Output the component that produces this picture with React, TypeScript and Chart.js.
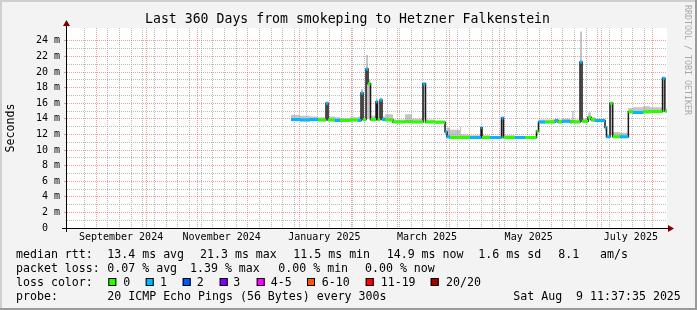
import React, { useEffect, useRef } from 'react';
import { Chart, registerables } from 'chart.js';
Chart.register(...registerables);

const W = 697;
const H = 310;
const MONO = '"DejaVu Sans Mono", monospace';

const titleText = 'Last 360 Days from smokeping to Hetzner Falkenstein';
const yAxisTitle = 'Seconds';
const watermark = 'RRDTOOL / TOBI OETIKER';

// x values are days since Sun 2024-08-11 00:00
const rangeStartDay = 3.484; // Wed Aug 14 2024 11:37:35
const rangeEndDay = 363.484; // Sat Aug 9 2025 11:37:35
const monthStartDays = [21, 51, 82, 112, 143, 174, 202, 233, 263, 294, 324, 355];
const xLabelDays = [35.9, 96.3, 157.9, 219.5, 280.5, 341.8];
const xLabels = ['September 2024', 'November 2024', 'January 2025', 'March 2025', 'May 2025', 'July 2025'];

const yMax = 25.65; // ms
const yTickValues = [0, 2, 4, 6, 8, 10, 12, 14, 16, 18, 20, 22, 24];
const yTickLabels = ['0  ', '2 m', '4 m', '6 m', '8 m', '10 m', '12 m', '14 m', '16 m', '18 m', '20 m', '22 m', '24 m'];

// median rtt steps (each value holds from its day until the next day)
const stepDays = [
  137.9, 143.3, 149.3, 154.1, 158.9, 160.1, 164.3, 167.3, 173.3, 178.1,
  179.9, 181.1, 182.9, 184.1, 185.6, 188.9, 189.8, 191.3, 192.5, 194.3,
  199.1, 206.3, 210.5, 217.1, 218.6, 224.3, 230.3, 231.5, 233.3, 239.3,
  239.9, 245.3, 251.9, 252.5, 257.3, 264.2, 265.4, 272.3, 278.3, 285.2,
  286.4, 290.3, 296.3, 298.1, 300.5, 305.3, 306.5, 307.4, 311.3, 312.5,
  316.1, 317.9, 320.3, 326.3, 327.2, 329.3, 330.9, 335.3, 340.3, 343.1,
  349.1, 353.3, 360.8, 362.2,
];
const medianMs = [
  13.9, 13.85, 13.9, 13.85, 16.0, 13.85, 13.8, 13.8, 13.85, 13.8,
  17.3, 13.9, 20.4, 18.5, 13.9, 16.2, 13.9, 16.4, 13.9, 13.85,
  13.6, 13.65, 13.6, 18.5, 13.6, 13.55, 12.3, 11.7, 11.6, 11.65,
  11.6, 11.6, 12.9, 11.6, 11.6, 14.1, 11.6, 11.6, 11.6, 12.4,
  13.6, 13.6, 13.8, 13.6, 13.7, 13.6, 13.7, 13.6, 21.3, 13.7,
  14.2, 13.9, 13.8, 12.9, 11.7, 16.0, 11.7, 11.7, 14.9, 14.8,
  14.9, 14.95, 19.2, 15.0,
];
const lossCount = [
  1, 1, 1, 0, 1, 0, 1, 0, 0, 1,
  1, 0, 1, 0, 0, 1, 0, 1, 1, 0,
  0, 0, 0, 1, 0, 0, 1, 1, 0, 0,
  0, 1, 1, 0, 1, 1, 0, 1, 0, 0,
  1, 0, 1, 0, 1, 0, 0, 0, 1, 0,
  0, 0, 1, 1, 1, 0, 0, 1, 0, 1,
  0, 0, 1, 0,
];
const smokeLoMs = [
  13.7, 13.7, 13.7, 13.7, 13.9, 13.7, 13.7, 13.7, 13.7, 13.7,
  14.0, 13.7, 14.0, 14.0, 13.7, 14.0, 13.7, 14.0, 13.7, 13.7,
  13.5, 13.5, 13.5, 14.0, 13.45, 13.4, 12.0, 11.5, 11.5, 11.5,
  11.5, 11.5, 11.7, 11.5, 11.5, 11.7, 11.5, 11.5, 11.5, 12.0,
  13.4, 13.45, 13.5, 13.45, 13.5, 13.45, 13.5, 13.45, 14.0, 13.5,
  13.8, 13.6, 13.6, 12.5, 11.5, 12.0, 11.5, 11.5, 14.7, 14.7,
  14.7, 14.8, 15.0, 14.8,
];
const smokeHiMs = [
  14.5, 14.4, 14.3, 14.2, 16.1, 14.3, 14.2, 14.1, 14.2, 14.3,
  17.8, 14.3, 22.2, 19.0, 14.4, 16.6, 14.2, 16.7, 14.3, 14.6,
  13.9, 14.6, 14.0, 18.6, 13.9, 13.8, 12.6, 12.9, 12.6, 13.0,
  12.0, 11.9, 13.0, 11.9, 11.8, 14.2, 11.9, 11.8, 11.8, 12.6,
  13.9, 13.9, 14.0, 13.9, 14.0, 13.9, 15.0, 13.9, 25.2, 14.0,
  14.8, 14.2, 14.0, 13.1, 11.9, 16.1, 12.3, 12.2, 15.4, 15.5,
  15.6, 15.5, 19.3, 15.3,
];

const lossColorLabels = ['0', '1', '2', '3', '4-5', '6-10', '11-19', '20/20'];
const lossColors = ['#26ff00', '#00b8ff', '#0059ff', '#7e00ff', '#ff00ff', '#ff5500', '#ff0000', '#a10000'];

const medianStats = ['13.4 ms avg', '21.3 ms max', '11.5 ms min', '14.9 ms now', '1.6 ms sd', '8.1', 'am/s'];
const lossStats = ['0.07 % avg', '1.39 % max', '0.00 % min', '0.00 % now'];
const rowHeads = ['median rtt:', 'packet loss:', 'loss color:', 'probe:'];
const probeText = '20 ICMP Echo Pings (56 Bytes) every 300s';
const dateText = 'Sat Aug  9 11:37:35 2025';

// layout (pixels)
const L = {
  rowY: [254.5, 268.5, 282.5, 296.5],
  headX: 16,
  medianX: [107.3, 200, 293.3, 386.7, 478.3, 558.3, 600],
  lossX: [107.3, 190, 278.3, 365],
  boxX: [108.3, 145.7, 182.7, 219.7, 256.7, 307, 365.7, 430.7],
  boxLabelX: [123.3, 160, 196.7, 233.3, 270.7, 321.7, 380.7, 446],
  probeX: 107.3,
  dateX: 513.3,
};

const RED = 'rgba(235, 60, 60, 0.5)';
const GRAY = 'rgba(175, 175, 175, 0.85)';

function stepPoints(values: number[]) {
  const pts = stepDays.map((d, i) => ({ x: d, y: values[i] }));
  pts.push({ x: rangeEndDay, y: values[values.length - 1] });
  return pts;
}

function lossSegments(k: number) {
  const pts: { x: number; y: number | null }[] = [];
  stepDays.forEach((d, i) => {
    if (lossCount[i] !== k) return;
    const next = i + 1 < stepDays.length ? stepDays[i + 1] : rangeEndDay;
    pts.push({ x: d, y: medianMs[i] }, { x: next, y: medianMs[i] }, { x: next, y: null });
  });
  return pts;
}

const decor = {
  id: 'rrdDecor',
  beforeDraw(chart: any) {
    const { ctx, chartArea: a } = chart;
    ctx.save();
    ctx.fillStyle = '#f3f3f3';
    ctx.fillRect(0, 0, W, H);
    ctx.fillStyle = '#ffffff';
    ctx.fillRect(a.left, a.top, a.right - a.left, a.bottom - a.top);
    ctx.restore();
  },
  afterDraw(chart: any) {
    const { ctx, chartArea: a } = chart;
    ctx.save();
    // axes
    ctx.strokeStyle = '#000';
    ctx.lineWidth = 1;
    ctx.beginPath();
    ctx.moveTo(a.left - 5, a.bottom + 0.5);
    ctx.lineTo(a.right + 3, a.bottom + 0.5);
    ctx.moveTo(a.left - 0.5, a.bottom + 4);
    ctx.lineTo(a.left - 0.5, a.top - 3);
    ctx.stroke();
    ctx.fillStyle = '#7f0000';
    ctx.beginPath();
    ctx.moveTo(a.right + 1, a.bottom + 0.5 - 3.5);
    ctx.lineTo(a.right + 7, a.bottom + 0.5);
    ctx.lineTo(a.right + 1, a.bottom + 0.5 + 3.5);
    ctx.closePath();
    ctx.fill();
    ctx.beginPath();
    ctx.moveTo(a.left - 0.5 - 3.5, a.top - 2);
    ctx.lineTo(a.left - 0.5, a.top - 8);
    ctx.lineTo(a.left - 0.5 + 3.5, a.top - 2);
    ctx.closePath();
    ctx.fill();

    // title
    ctx.fillStyle = '#000';
    ctx.textBaseline = 'middle';
    ctx.textAlign = 'center';
    ctx.font = `13.2px ${MONO}`;
    ctx.fillText(titleText, 347.5, 19.5);

    // watermark
    ctx.save();
    ctx.translate(687, 5);
    ctx.rotate(Math.PI / 2);
    ctx.textAlign = 'left';
    ctx.fillStyle = '#a8a8a8';
    ctx.font = `8.3px ${MONO}`;
    ctx.fillText(watermark, 0, 0);
    ctx.restore();

    // legend
    ctx.textAlign = 'left';
    ctx.fillStyle = '#000';
    ctx.font = `11.6px ${MONO}`;
    rowHeads.forEach((t, r) => ctx.fillText(t, L.headX, L.rowY[r]));
    medianStats.forEach((t, i) => ctx.fillText(t, L.medianX[i], L.rowY[0]));
    lossStats.forEach((t, i) => ctx.fillText(t, L.lossX[i], L.rowY[1]));
    lossColorLabels.forEach((t, i) => {
      ctx.fillStyle = lossColors[i];
      ctx.fillRect(L.boxX[i], L.rowY[2] - 4.5, 8, 8);
      ctx.strokeStyle = '#000';
      ctx.strokeRect(L.boxX[i] + 0.5, L.rowY[2] - 4, 7, 7);
      ctx.fillStyle = '#000';
      ctx.fillText(t, L.boxLabelX[i], L.rowY[2]);
    });
    ctx.fillText(probeText, L.probeX, L.rowY[3]);
    ctx.fillText(dateText, L.dateX, L.rowY[3]);

    // frame
    ctx.fillStyle = '#cfcfcf';
    ctx.fillRect(0, 0, W, 2);
    ctx.fillRect(0, 0, 2, H);
    ctx.fillStyle = '#9a9a9a';
    ctx.fillRect(0, H - 2, W, 2);
    ctx.fillRect(W - 2, 0, 2, H);
    ctx.restore();
  },
};

export default function App() {
  const ref = useRef<HTMLCanvasElement | null>(null);
  useEffect(() => {
    document.body.style.margin = '0';
    const canvas = ref.current;
    if (!canvas) return;
    Chart.defaults.font.family = MONO;
    const chart = new Chart(canvas, {
      type: 'line',
      data: {
        datasets: [
          {
            label: 'loss 0',
            data: lossSegments(0),
            borderColor: lossColors[0],
            borderWidth: 3,
            borderCapStyle: 'butt',
            pointRadius: 0,
            spanGaps: false,
            order: 0,
          },
          {
            label: 'loss 1',
            data: lossSegments(1),
            borderColor: lossColors[1],
            borderWidth: 3,
            borderCapStyle: 'butt',
            pointRadius: 0,
            spanGaps: false,
            order: 0,
          },
          {
            label: 'median',
            data: stepPoints(medianMs),
            borderColor: '#1a1a1a',
            borderWidth: 1.5,
            stepped: true,
            pointRadius: 0,
            order: 1,
          },
          {
            label: 'smoke lo',
            data: stepPoints(smokeLoMs),
            borderWidth: 0,
            borderColor: 'transparent',
            stepped: true,
            pointRadius: 0,
            fill: false,
            order: 3,
          },
          {
            label: 'smoke hi',
            data: stepPoints(smokeHiMs),
            borderWidth: 0,
            borderColor: 'transparent',
            backgroundColor: 'rgba(150,150,150,0.55)',
            stepped: true,
            pointRadius: 0,
            fill: '-1',
            order: 2,
          },
        ],
      } as any,
      options: {
        responsive: false,
        animation: false,
        devicePixelRatio: 1,
        layout: { padding: { left: 0, right: 30, top: 28, bottom: 0 } },
        plugins: {
          legend: { display: false },
          tooltip: { enabled: false },
          title: { display: false },
        },
        scales: {
          x: {
            type: 'linear',
            position: 'bottom',
            min: rangeStartDay,
            max: rangeEndDay,
            afterBuildTicks: (s: any) => {
              s.ticks = xLabelDays.map((v) => ({ value: v }));
            },
            afterFit: (s: any) => {
              s.height = 82;
            },
            grid: { display: false, drawTicks: false },
            border: { display: false },
            ticks: {
              autoSkip: false,
              maxRotation: 0,
              minRotation: 0,
              padding: 3,
              color: '#000',
              font: { family: MONO, size: 10 },
              callback: (_v: any, i: number) => xLabels[i],
            },
          },
          xMonth: {
            type: 'linear',
            position: 'bottom',
            min: rangeStartDay,
            max: rangeEndDay,
            afterBuildTicks: (s: any) => {
              s.ticks = monthStartDays.map((v) => ({ value: v }));
            },
            afterFit: (s: any) => {
              s.height = 0;
            },
            grid: { color: RED, drawTicks: false, lineWidth: 1 },
            border: { display: false, dash: [1, 1] },
            ticks: { display: false },
          },
          xWeek: {
            type: 'linear',
            position: 'bottom',
            min: rangeStartDay,
            max: rangeEndDay,
            ticks: { display: false, stepSize: 7 },
            afterBuildTicks: (s: any) => {
              s.ticks = s.ticks.filter(
                (t: any) => Math.abs(t.value % 7) < 1e-6 && !monthStartDays.includes(Math.round(t.value))
              );
            },
            afterFit: (s: any) => {
              s.height = 0;
            },
            grid: { color: GRAY, drawTicks: false, lineWidth: 1 },
            border: { display: false, dash: [1, 1] },
          },
          y: {
            type: 'linear',
            position: 'left',
            min: 0,
            max: yMax,
            afterBuildTicks: (s: any) => {
              s.ticks = yTickValues.map((v) => ({ value: v }));
            },
            afterFit: (s: any) => {
              s.width = 67;
            },
            grid: { color: RED, tickLength: 3, lineWidth: 1 },
            border: { display: false, dash: [1, 1] },
            ticks: {
              padding: 4,
              color: '#000',
              font: { family: MONO, size: 10 },
              callback: (_v: any, i: number) => yTickLabels[i],
            },
            title: {
              display: true,
              text: yAxisTitle,
              color: '#000',
              font: { family: MONO, size: 11.6 },
              padding: { top: 4, bottom: 0 },
            },
          },
          yMinor: {
            type: 'linear',
            position: 'left',
            min: 0,
            max: yMax,
            ticks: { display: false, stepSize: 1 },
            afterBuildTicks: (s: any) => {
              s.ticks = s.ticks.filter(
                (t: any) => Number.isInteger(Math.round(t.value * 1000) / 1000) && Math.round(t.value) % 2 !== 0
              );
            },
            afterFit: (s: any) => {
              s.width = 0;
            },
            grid: { color: GRAY, drawTicks: false, lineWidth: 1 },
            border: { display: false, dash: [1, 1] },
          },
        },
      } as any,
      plugins: [decor],
    });
    return () => chart.destroy();
  }, []);
  return <canvas ref={ref} width={W} height={H} style={{ display: 'block', width: W, height: H }} />;
}
